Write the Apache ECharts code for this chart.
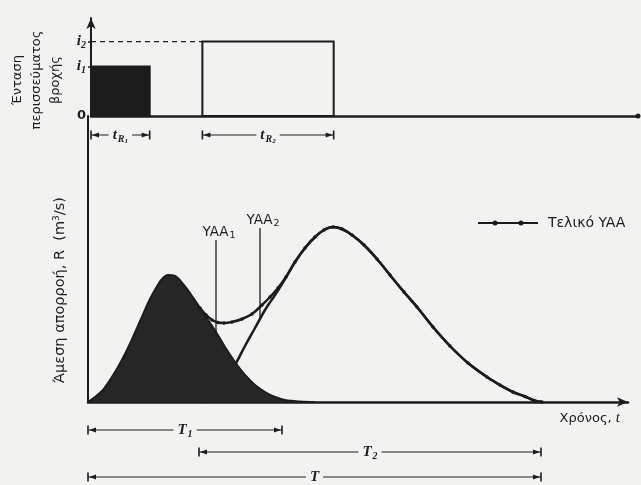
<!DOCTYPE html>
<html>
<head>
<meta charset="utf-8">
<script src="https://cdn.jsdelivr.net/npm/echarts@6/dist/echarts.min.js"></script>
<style>
  html, body { margin: 0; padding: 0; background: #f2f2f0; }
  #chart { width: 641px; height: 485px; }
</style>
</head>
<body>
<div id="chart"></div>
<script>
// ---- Rainfall-excess pulses (time units, intensity units) ----
const pulseStart = [0, 11.2];
const pulseEnd = [5.9, 24.4];
const pulseIntensity = [2, 3];
const pulseSub = ['1', '2'];

// ---- Intensity axis ticks ----
const intensityTickValues = [0, 2, 3];
const intensityTickLabels = ['0', 'i1', 'i2'];

// ---- Direct-runoff hydrograph of pulse 1 (shaded) ----
const h1Time = [0, 0.7, 1.4, 2.2, 3.0, 3.7, 4.5, 5.3, 6.1, 6.8, 7.4, 8.0, 8.7, 9.5, 10.4, 11.2, 12.0, 12.8, 13.7, 14.7, 15.7, 16.7, 17.7, 18.7, 19.7, 21.2, 22.7];
const h1Flow = [0, 0.5, 1.1, 2.2, 3.5, 4.8, 6.5, 8.3, 10.1, 11.4, 12.3, 12.7, 12.6, 11.8, 10.6, 9.4, 8.2, 7.0, 5.5, 4.0, 2.7, 1.7, 1.0, 0.5, 0.2, 0.05, 0];

// ---- Direct-runoff hydrograph of pulse 2 ----
const h2Time = [11.2, 12.2, 13.0, 13.8, 14.7, 15.7, 16.7, 17.7, 18.7, 19.7, 20.7, 21.7, 22.7, 23.6, 24.5, 25.4, 26.4, 27.6, 28.9, 30.2, 31.6, 32.9, 34.5, 36.2, 38.0, 39.9, 41.2, 42.5, 43.7, 44.6, 45.4];
const h2Flow = [0, 0.4, 1.1, 2.2, 3.7, 5.6, 7.4, 9.2, 10.7, 12.3, 14.0, 15.4, 16.5, 17.2, 17.5, 17.3, 16.7, 15.7, 14.3, 12.7, 11.0, 9.5, 7.5, 5.6, 3.9, 2.5, 1.7, 1.0, 0.55, 0.15, 0];

// ---- Final (combined) hydrograph ----
const totalTime = [11.2, 11.8, 12.4, 13.0, 13.6, 14.4, 15.4, 16.4, 17.4, 18.2, 19.0, 19.8, 20.7, 21.7, 22.7, 23.6, 24.5, 25.4, 26.4, 27.6, 28.9, 30.2, 31.6, 32.9, 34.5, 36.2, 38.0, 39.9, 41.2, 42.5, 43.7, 44.6, 45.4];
const totalFlow = [9.4, 8.7, 8.2, 7.95, 7.9, 8.0, 8.3, 8.8, 9.7, 10.5, 11.4, 12.5, 14.0, 15.4, 16.5, 17.2, 17.5, 17.3, 16.7, 15.7, 14.3, 12.7, 11.0, 9.5, 7.5, 5.6, 3.9, 2.5, 1.7, 1.0, 0.55, 0.15, 0];

// ---- Hydrograph labels with leader lines ----
const yaaSub = ['1', '2'];
const yaaTime = [12.8, 17.2];
const yaaTop = [16.2, 17.4];
const yaaBottom = [7.0, 8.2];

// ---- Base-time spans below the time axis ----
const spanBase = ['T', 'T', 'T'];
const spanSub = ['1', '2', ''];
const spanStart = [0, 11.1, 0];
const spanEnd = [19.4, 45.3, 45.3];

// ---- Styling ----
const INK = '#1c1c1c';
const BG = '#f2f2f0';
const SANS = "'DejaVu Sans', 'Noto Sans', sans-serif";
const SERIF = "'Liberation Serif', 'DejaVu Serif', serif";
const SPAN_OFFSETS = [28, 50, 75];
const DURATION_OFFSET = 19;

const mathRichZr = {
  it: { fontFamily: SERIF, fontStyle: 'italic', fontWeight: 'bold', fontSize: 15, fill: INK },
  sub: { fontFamily: SERIF, fontStyle: 'italic', fontWeight: 'bold', fontSize: 10, fill: INK, padding: [8, 0, 0, 1] },
  sub2: { fontFamily: SERIF, fontStyle: 'italic', fontWeight: 'bold', fontSize: 7, fill: INK, padding: [12, 0, 0, 0] }
};
const yaaRichZr = {
  b: { fontFamily: SANS, fontSize: 13.5, fill: INK },
  s: { fontFamily: SANS, fontSize: 9.5, fill: INK, padding: [8, 0, 0, 1] }
};

const pairs = (xs, ys) => xs.map((x, i) => [x, ys[i]]);

function dimensionGroup(x0, x1, y, text) {
  return {
    type: 'group',
    children: [
      { type: 'line', shape: { x1: x0, y1: y, x2: x1, y2: y }, style: { stroke: INK, lineWidth: 1.2 } },
      { type: 'line', shape: { x1: x0, y1: y - 4.5, x2: x0, y2: y + 4.5 }, style: { stroke: INK, lineWidth: 1.6 } },
      { type: 'line', shape: { x1: x1, y1: y - 4.5, x2: x1, y2: y + 4.5 }, style: { stroke: INK, lineWidth: 1.6 } },
      { type: 'polygon', shape: { points: [[x0 + 1, y], [x0 + 8, y - 2.6], [x0 + 8, y + 2.6]] }, style: { fill: INK } },
      { type: 'polygon', shape: { points: [[x1 - 1, y], [x1 - 8, y - 2.6], [x1 - 8, y + 2.6]] }, style: { fill: INK } },
      {
        type: 'text', x: (x0 + x1) / 2, y: y,
        style: { text: text, rich: mathRichZr, align: 'center', verticalAlign: 'middle', backgroundColor: BG, padding: [0, 4] }
      }
    ]
  };
}

// legend key: a line with two dots
const LEGEND_ICON = 'path://M0,3H14.6V5H0Z M14.5,4A2.5,2.5,0,1,1,19.5,4A2.5,2.5,0,1,1,14.5,4Z M19.4,3H40.6V5H19.4Z M40.5,4A2.5,2.5,0,1,1,45.5,4A2.5,2.5,0,1,1,40.5,4Z M45.4,3H60V5H45.4Z';

const chart = echarts.init(document.getElementById('chart'), null, { renderer: 'canvas' });

chart.setOption({
  backgroundColor: BG,
  animation: false,
  textStyle: { fontFamily: SANS, color: INK },
  grid: [
    { left: 88, right: 3, top: 18, height: 98 },
    { left: 88, right: 13, top: 116, bottom: 83 }
  ],
  legend: {
    data: [{ name: 'Τελικό YAA', icon: LEGEND_ICON }],
    left: 473, top: 211,
    itemWidth: 60, itemHeight: 5,
    selectedMode: false,
    textStyle: { fontFamily: SANS, fontSize: 14, color: INK, padding: [0, 0, 0, 5] }
  },
  xAxis: [
    {
      gridIndex: 0, type: 'value', min: 0, max: 55,
      axisLine: { show: true, onZero: false, symbol: ['none', 'circle'], symbolSize: [5, 5], lineStyle: { color: INK, width: 2.5 } },
      axisTick: { show: false }, axisLabel: { show: false }, splitLine: { show: false }
    },
    {
      gridIndex: 1, type: 'value', min: 0, max: 54,
      axisLine: { show: true, onZero: false, symbol: ['none', 'arrow'], symbolSize: [7, 11], lineStyle: { color: INK, width: 2.5 } },
      axisTick: { show: false }, axisLabel: { show: false }, splitLine: { show: false },
      name: 'Χρόνος, {it|t}',
      nameLocation: 'end', nameGap: -8,
      nameTextStyle: {
        fontFamily: SANS, fontSize: 13, color: INK, align: 'right', verticalAlign: 'top', padding: [9, 0, 0, 0],
        rich: { it: { fontFamily: SERIF, fontStyle: 'italic', fontSize: 15, color: INK } }
      }
    }
  ],
  yAxis: [
    {
      gridIndex: 0, type: 'value', min: 0, max: 3.95,
      axisLine: { show: true, onZero: false, symbol: ['none', 'arrow'], symbolSize: [7, 11], lineStyle: { color: INK, width: 2 } },
      axisTick: { show: true, customValues: [2, 3], length: 3, lineStyle: { color: INK, width: 1.5 } },
      axisLabel: {
        customValues: intensityTickValues, margin: 5,
        formatter: function (v) {
          const lab = intensityTickLabels[intensityTickValues.indexOf(v)];
          if (lab === '0') return '{z|0}';
          return '{it|' + lab.charAt(0) + '}{sub|' + lab.slice(1) + '}';
        },
        rich: {
          z: { fontFamily: SANS, fontWeight: 'bold', fontSize: 13, color: INK },
          it: { fontFamily: SERIF, fontStyle: 'italic', fontWeight: 'bold', fontSize: 15, color: INK },
          sub: { fontFamily: SERIF, fontStyle: 'italic', fontWeight: 'bold', fontSize: 10, color: INK, padding: [8, 0, 0, 0] }
        }
      },
      splitLine: { show: false },
      name: 'Ένταση\nπερισσεύματος\nβροχής',
      nameLocation: 'middle', nameRotate: 90, nameGap: 26,
      nameTextStyle: { fontFamily: SANS, fontSize: 13, color: INK, lineHeight: 19, padding: [0, 26, 0, 0] }
    },
    {
      gridIndex: 1, type: 'value', min: 0, max: 28.6,
      axisLine: { show: true, onZero: false, lineStyle: { color: INK, width: 2 } },
      axisTick: { show: false }, axisLabel: { show: false }, splitLine: { show: false },
      name: 'Άμεση απορροή, {r|R}  (m{sup|3}/s)',
      nameLocation: 'middle', nameRotate: 90, nameGap: 20,
      nameTextStyle: {
        fontFamily: SANS, fontSize: 14.5, color: INK, padding: [0, 62, 0, 0],
        rich: {
          r: { fontFamily: SANS, fontSize: 14.5, color: INK },
          sup: { fontFamily: SANS, fontSize: 9, color: INK, padding: [0, 0, 7, 0] }
        }
      }
    }
  ],
  series: [
    // rainfall-excess pulses
    {
      type: 'custom', name: 'pulses', xAxisIndex: 0, yAxisIndex: 0, silent: true,
      data: pulseStart.map((s, i) => [s, pulseEnd[i], pulseIntensity[i]]),
      encode: { x: [0, 1], y: 2 },
      renderItem: function (params, api) {
        const a = api.coord([api.value(0), api.value(2)]);
        const b = api.coord([api.value(1), 0]);
        const filled = params.dataIndex === 0;
        return {
          type: 'rect',
          shape: { x: a[0], y: a[1], width: b[0] - a[0], height: b[1] - a[1] },
          style: { fill: filled ? INK : 'none', stroke: INK, lineWidth: 2 }
        };
      },
      z: 3
    },
    // dashed guide at the second intensity
    {
      type: 'line', name: 'guide', xAxisIndex: 0, yAxisIndex: 0, silent: true,
      data: [[0, pulseIntensity[1]], [pulseStart[1], pulseIntensity[1]]],
      showSymbol: false, lineStyle: { color: INK, width: 1.2, type: [5, 4] }, z: 2
    },
    // pulse duration markers
    {
      type: 'custom', name: 'durations', xAxisIndex: 0, yAxisIndex: 0, silent: true, clip: false,
      data: pulseStart.map((s, i) => [s, pulseEnd[i], 0]),
      encode: { x: [0, 1], y: 2 },
      renderItem: function (params, api) {
        const a = api.coord([api.value(0), 0]);
        const b = api.coord([api.value(1), 0]);
        const k = params.dataIndex;
        return dimensionGroup(a[0], b[0], a[1] + DURATION_OFFSET, '{it|t}{sub|R}{sub2|' + pulseSub[k] + '}');
      }
    },
    // hydrograph of pulse 2
    {
      type: 'line', name: 'YAA2', xAxisIndex: 1, yAxisIndex: 1, silent: true,
      data: pairs(h2Time, h2Flow), smooth: 0.35, showSymbol: false,
      lineStyle: { color: INK, width: 2.5 }, z: 2
    },
    // hydrograph of pulse 1 (shaded)
    {
      type: 'line', name: 'YAA1', xAxisIndex: 1, yAxisIndex: 1, silent: true,
      data: pairs(h1Time, h1Flow), smooth: 0.35, showSymbol: false,
      lineStyle: { color: INK, width: 2 },
      areaStyle: { color: '#262626', opacity: 1 }, z: 3
    },
    // final hydrograph
    {
      type: 'line', name: 'Τελικό YAA', xAxisIndex: 1, yAxisIndex: 1, silent: true,
      data: pairs(totalTime, totalFlow), smooth: 0.35,
      showSymbol: true, symbol: 'circle', symbolSize: 3.5,
      itemStyle: { color: INK }, lineStyle: { color: INK, width: 2.5 }, z: 4
    },
    // hydrograph labels
    {
      type: 'custom', name: 'yaaLabels', xAxisIndex: 1, yAxisIndex: 1, silent: true, clip: false,
      data: yaaTime.map((t, i) => [t, yaaTop[i], yaaBottom[i]]),
      encode: { x: 0, y: [1, 2] },
      renderItem: function (params, api) {
        const top = api.coord([api.value(0), api.value(1)]);
        const bot = api.coord([api.value(0), api.value(2)]);
        const k = params.dataIndex;
        return {
          type: 'group',
          children: [
            { type: 'line', shape: { x1: top[0], y1: top[1], x2: bot[0], y2: bot[1] }, style: { stroke: INK, lineWidth: 1.3 } },
            {
              type: 'text', x: top[0] + 3, y: top[1] + 1,
              style: { text: '{b|YAA}{s|' + yaaSub[k] + '}', rich: yaaRichZr, align: 'center', verticalAlign: 'bottom' }
            }
          ]
        };
      },
      z: 5
    },
    // base-time spans
    {
      type: 'custom', name: 'spans', xAxisIndex: 1, yAxisIndex: 1, silent: true, clip: false,
      data: spanStart.map((s, i) => [s, spanEnd[i], 0]),
      encode: { x: [0, 1], y: 2 },
      renderItem: function (params, api) {
        const a = api.coord([api.value(0), 0]);
        const b = api.coord([api.value(1), 0]);
        const k = params.dataIndex;
        const txt = '{it|' + spanBase[k] + '}' + (spanSub[k] ? '{sub|' + spanSub[k] + '}' : '');
        return dimensionGroup(a[0], b[0], a[1] + SPAN_OFFSETS[k], txt);
      }
    }
  ]
});
</script>
</body>
</html>
